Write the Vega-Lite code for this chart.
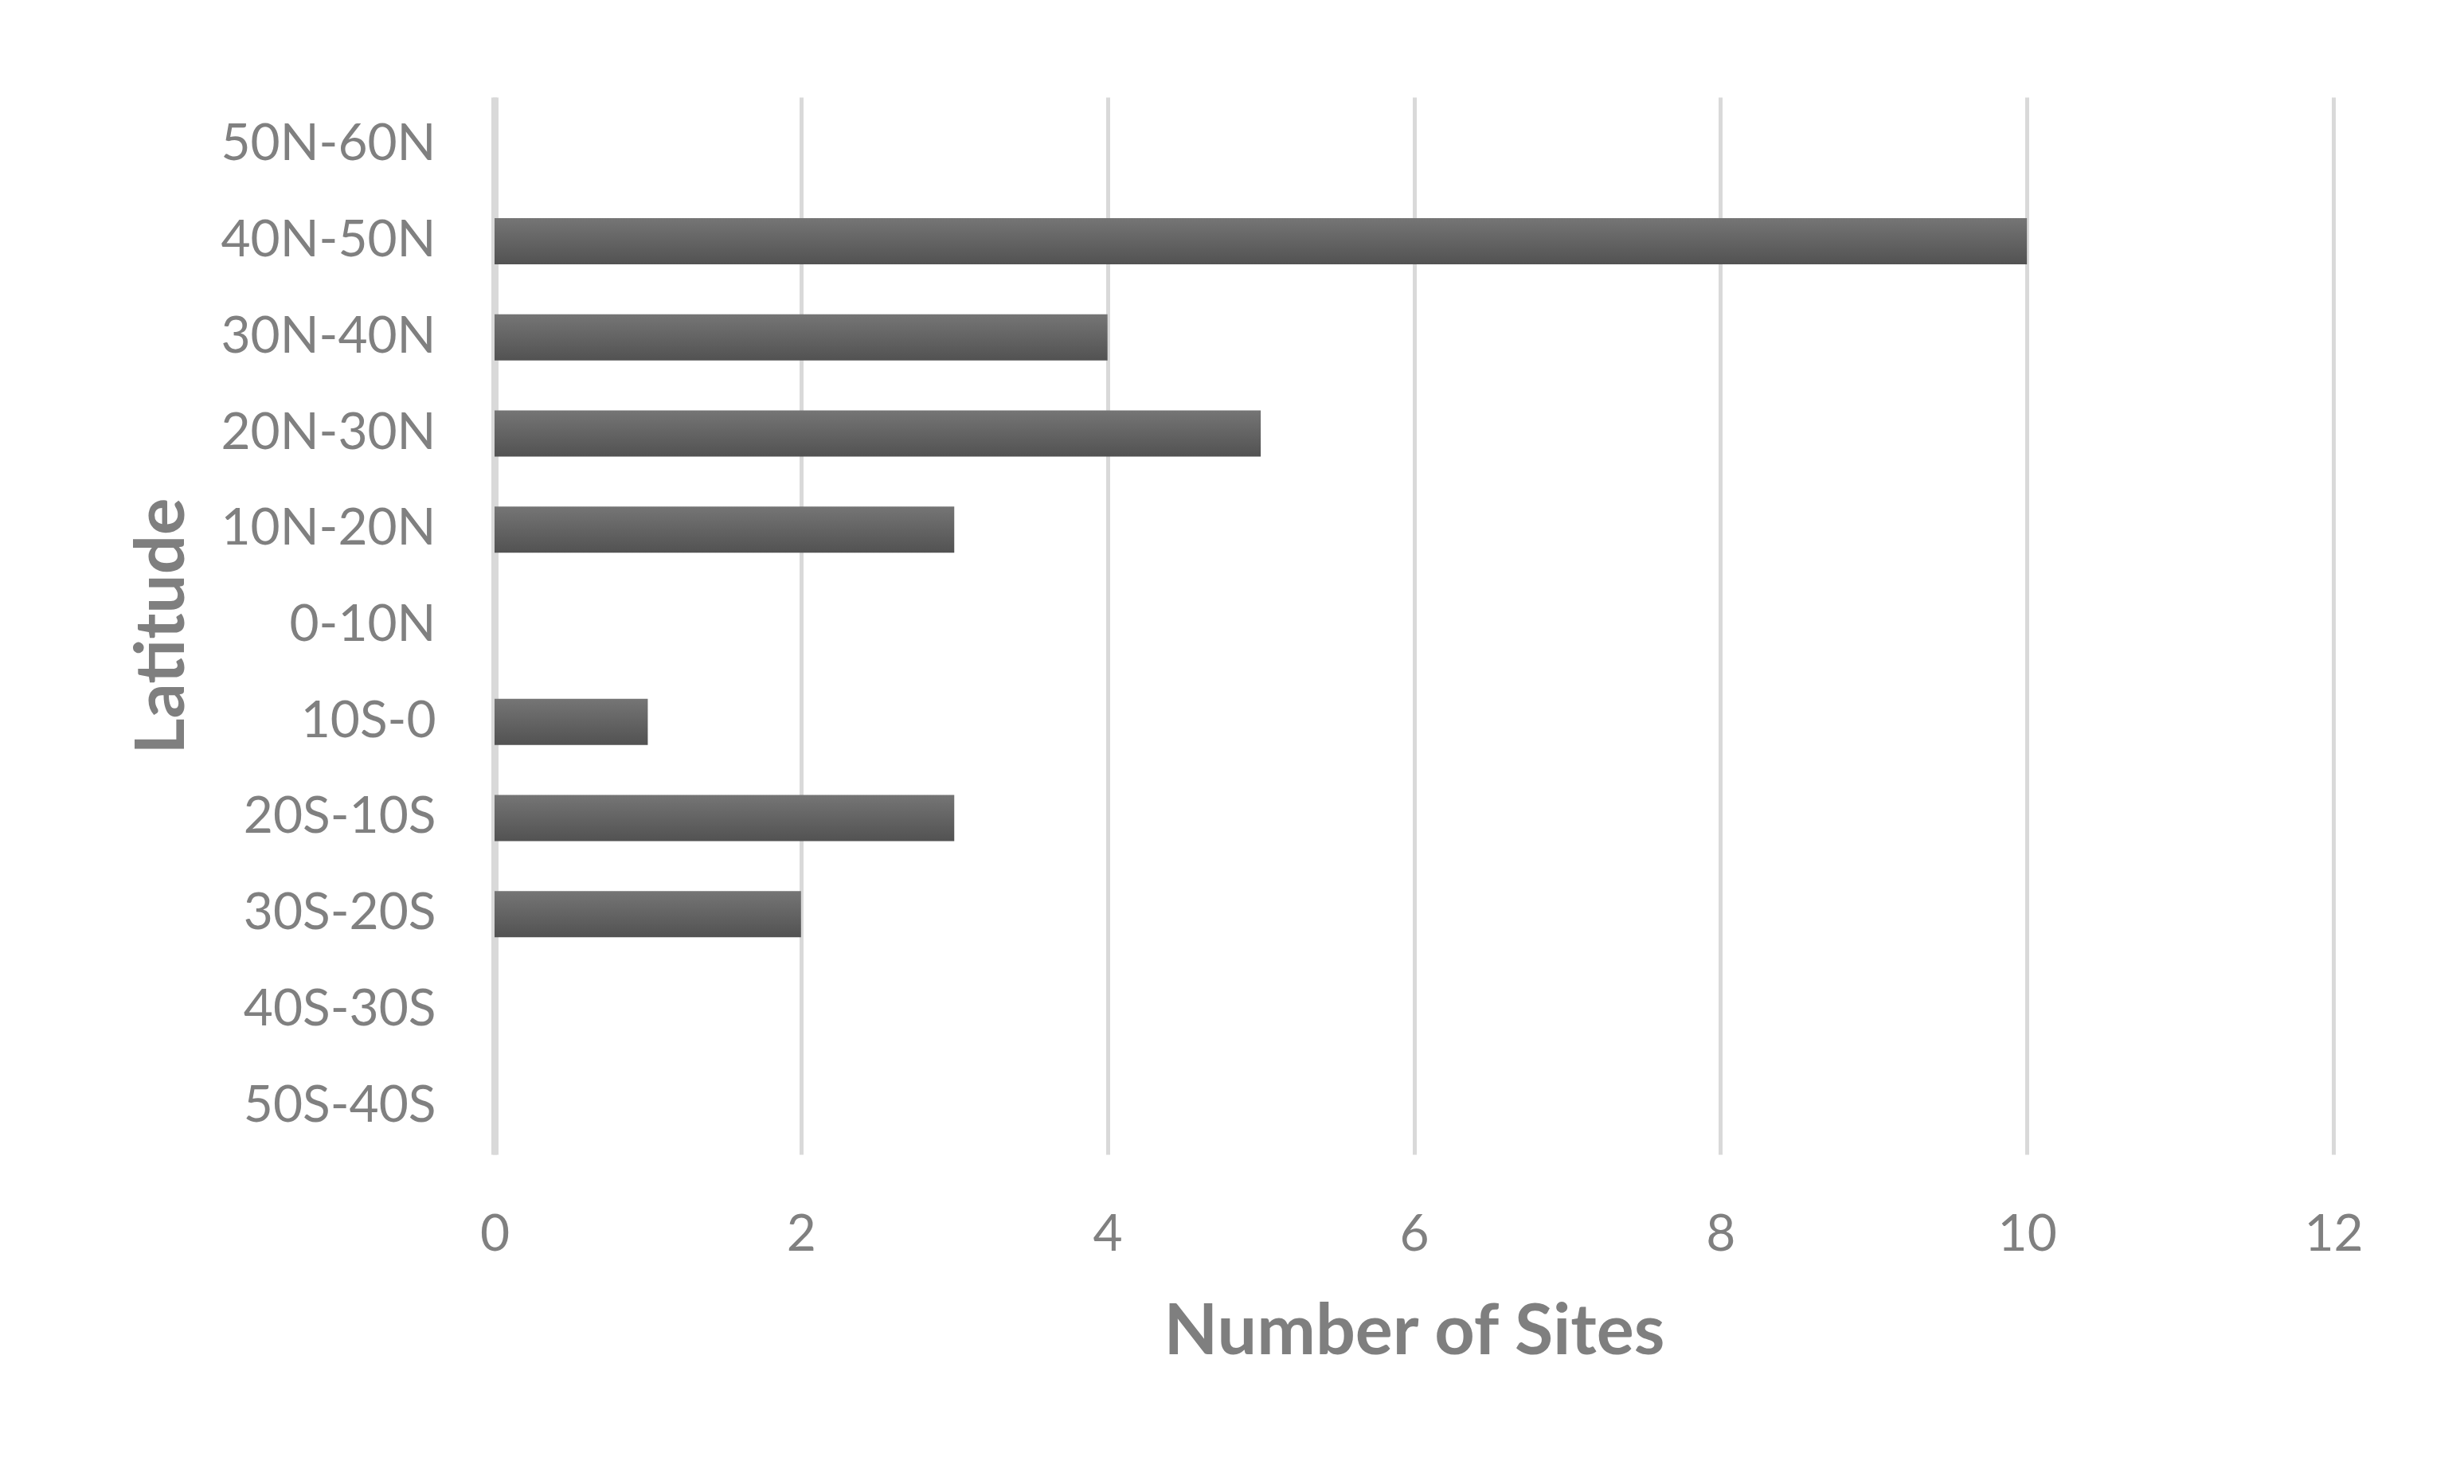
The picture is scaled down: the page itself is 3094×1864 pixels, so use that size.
{
  "$schema": "https://vega.github.io/schema/vega-lite/v6.json",
  "width": 2309,
  "height": 1328,
  "autosize": "none",
  "padding": {"left": 621, "top": 122, "right": 164, "bottom": 414},
  "background": "white",
  "data": {
    "values": [
      {"lat": "50N-60N", "sites": 0},
      {"lat": "40N-50N", "sites": 10},
      {"lat": "30N-40N", "sites": 4},
      {"lat": "20N-30N", "sites": 5},
      {"lat": "10N-20N", "sites": 3},
      {"lat": "0-10N", "sites": 0},
      {"lat": "10S-0", "sites": 1},
      {"lat": "20S-10S", "sites": 3},
      {"lat": "30S-20S", "sites": 2},
      {"lat": "40S-30S", "sites": 0},
      {"lat": "50S-40S", "sites": 0}
    ]
  },
  "mark": {
    "type": "bar",
    "color": {
      "gradient": "linear",
      "x1": 0, "y1": 0, "x2": 0, "y2": 1,
      "stops": [
        {"offset": 0, "color": "#757575"},
        {"offset": 1, "color": "#525252"}
      ]
    }
  },
  "encoding": {
    "y": {
      "field": "lat",
      "type": "nominal",
      "sort": ["50N-60N", "40N-50N", "30N-40N", "20N-30N", "10N-20N", "0-10N", "10S-0", "20S-10S", "30S-20S", "40S-30S", "50S-40S"],
      "scale": {"paddingInner": 0.52, "paddingOuter": 0.26},
      "axis": {
        "title": "Latitude",
        "grid": false,
        "ticks": false,
        "tickSize": 0,
        "domain": true,
        "domainColor": "#d9d9d9",
        "domainWidth": 9,
        "labelPadding": 74,
        "labelLimit": 0,
        "labelFont": "Lato",
        "labelFontSize": 64,
        "labelColor": "#808080",
        "titleFont": "Lato",
        "titleFontSize": 87,
        "titleFontWeight": "bold",
        "titleColor": "#7f7f7f",
        "titlePadding": 173
      }
    },
    "x": {
      "field": "sites",
      "type": "quantitative",
      "scale": {"domain": [0, 12], "nice": false},
      "axis": {
        "title": "Number of Sites",
        "values": [0, 2, 4, 6, 8, 10, 12],
        "grid": true,
        "gridColor": "#d9d9d9",
        "gridWidth": 5,
        "domain": false,
        "ticks": false,
        "tickSize": 0,
        "labelFlush": false,
        "labelPadding": 69,
        "labelFont": "Lato",
        "labelFontSize": 64,
        "labelColor": "#808080",
        "titleFont": "Lato",
        "titleFontSize": 88,
        "titleFontWeight": "bold",
        "titleColor": "#7f7f7f",
        "titlePadding": 47
      }
    }
  },
  "config": {"view": {"stroke": null}}
}
